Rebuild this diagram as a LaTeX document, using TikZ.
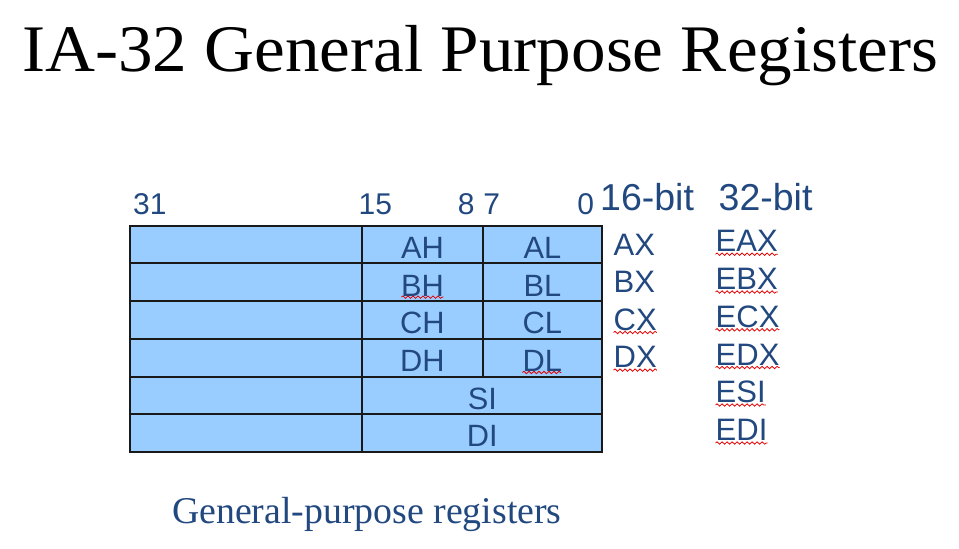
\documentclass[tikz,border=0pt]{standalone}
\usepackage{fontspec}
\setmainfont{Liberation Serif}
\setsansfont{Liberation Sans}
\usetikzlibrary{decorations.pathmorphing}

\definecolor{regfill}{RGB}{153,204,255}
\definecolor{regtext}{RGB}{34,72,128}
\definecolor{squig}{RGB}{230,0,0}

\begin{document}
\begin{tikzpicture}[x=1pt,y=-1pt,
  cell/.style={draw=black!90, line width=2pt, fill=regfill, inner sep=0pt,
    anchor=north west, minimum height=37.68pt, text=regtext,
    font=\sffamily\fontsize{30.8}{31}\selectfont, text height=27.6pt, text depth=0pt},
  bitlbl/.style={inner sep=0pt, text=regtext, font=\sffamily\fontsize{30}{30}\selectfont},
  headlbl/.style={inner sep=0pt, anchor=base west, text=regtext, font=\sffamily\fontsize{37.5}{38}\selectfont},
  reglbl/.style={inner sep=0pt, anchor=base west, text=regtext, font=\sffamily\fontsize{31}{31}\selectfont},
  squiggle/.style={draw=squig, line width=0.8pt, decorate,
    decoration={snake, segment length=5pt, amplitude=1.2pt}}
]
\useasboundingbox (0,0) rectangle (959,549);
\fill[white] (0,0) rectangle (959,549);

% title
\node[anchor=base west, inner sep=0pt] (title) at (22,71.7)
  {\scalebox{1.04}[1]{\fontsize{66.5}{70}\selectfont IA-32 General Purpose Registers}};

% bit positions
\node[bitlbl, anchor=base west] (b31) at (133,214.3) {31};
\node[bitlbl, anchor=base west] (b15) at (358.5,214.3) {15};
\node[bitlbl, anchor=base] (b8) at (466.3,214.3) {8};
\node[bitlbl, anchor=base] (b7) at (491.7,214.3) {7};
\node[bitlbl, anchor=base] (b0) at (585.8,214.3) {0};

% column headings
\node[headlbl] (h16) at (600,210.7) {16-bit};
\node[headlbl] (h32) at (718.5,210.7) {32-bit};

% upper halves (bits 31..16)
\node[cell, minimum width=232.6pt] (u1) at (128.7,224.80) {};
\node[cell, minimum width=232.6pt] (u2) at (128.7,262.48) {};
\node[cell, minimum width=232.6pt] (u3) at (128.7,300.16) {};
\node[cell, minimum width=232.6pt] (u4) at (128.7,337.84) {};
\node[cell, minimum width=232.6pt] (u5) at (128.7,375.52) {};
\node[cell, minimum width=232.6pt] (u6) at (128.7,413.20) {};

% high bytes (bits 15..8)
\node[cell, minimum width=120.2pt] (ah) at (361.3,224.80) {AH};
\node[cell, minimum width=120.2pt] (bh) at (361.3,262.48) {BH};
\node[cell, minimum width=120.2pt] (ch) at (361.3,300.16) {CH};
\node[cell, minimum width=120.2pt] (dh) at (361.3,337.84) {DH};

% low bytes (bits 7..0)
\node[cell, minimum width=119.8pt] (al) at (481.5,224.80) {AL};
\node[cell, minimum width=119.8pt] (bl) at (481.5,262.48) {BL};
\node[cell, minimum width=119.8pt] (cl) at (481.5,300.16) {CL};
\node[cell, minimum width=119.8pt] (dl) at (481.5,337.84) {DL};

% index registers (bits 15..0)
\node[cell, minimum width=240pt] (si) at (361.3,375.52) {SI};
\node[cell, minimum width=240pt] (di) at (361.3,413.20) {DI};

% 16-bit names
\node[reglbl] (ax) at (613.5,255.0) {AX};
\node[reglbl] (bx) at (613.5,292.3) {BX};
\node[reglbl] (cx) at (613.5,330.0) {CX};
\node[reglbl] (dx) at (613.5,367.6) {DX};

% 32-bit names
\node[reglbl] (eax) at (715.5,251.7) {EAX};
\node[reglbl] (ebx) at (715.5,289.5) {EBX};
\node[reglbl] (ecx) at (715.5,327.3) {ECX};
\node[reglbl] (edx) at (715.5,365.0) {EDX};
\node[reglbl] (esi) at (715.5,402.5) {ESI};
\node[reglbl] (edi) at (715.5,440.5) {EDI};

% spell-check underlines
\draw[squiggle] ([xshift=-21pt,yshift=-1pt]bh.base) -- ([xshift=21pt,yshift=-1pt]bh.base);
\draw[squiggle] ([xshift=-20pt,yshift=-1pt]dl.base) -- ([xshift=19pt,yshift=-1pt]dl.base);
\foreach \n in {cx,dx,eax,ebx,ecx,edx,esi,edi}
  \draw[squiggle] ([yshift=-2.5pt]\n.base west) -- ([yshift=-2.5pt]\n.base east);

% caption
\node[anchor=base west, inner sep=0pt, text=regtext] (cap) at (172,523)
  {\fontsize{37.8}{40}\selectfont General-purpose registers};
\end{tikzpicture}
\end{document}
